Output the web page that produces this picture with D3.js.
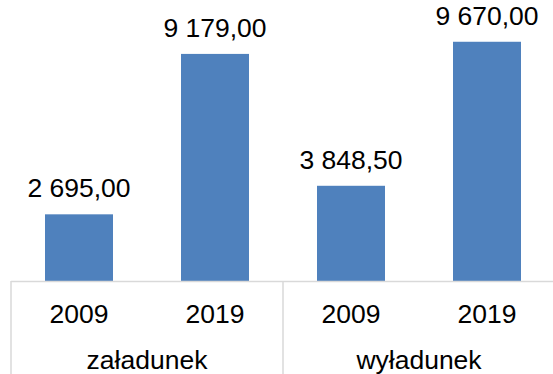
<!DOCTYPE html>
<html>
<head>
<meta charset="utf-8">
<script src="https://cdn.jsdelivr.net/npm/d3@7/dist/d3.min.js"></script>
<style>
  html, body { margin: 0; padding: 0; background: #fff; }
  svg { display: block; font-family: "Liberation Sans", Arial, sans-serif; }
</style>
</head>
<body>
<svg id="chart" width="553" height="374"></svg>
<script>
// Przeładunki: wartości dla dwóch lat w każdej grupie
const groups = ["załadunek", "wyładunek"];
const years = ["2009", "2019"];
const zaladunek = [2695.00, 9179.00];
const wyladunek = [3848.50, 9670.00];
const yTicks = [0, 10000];

const seriesByGroup = { "załadunek": zaladunek, "wyładunek": wyladunek };
const rows = groups.flatMap(g => years.map((y, i) => ({ group: g, year: y, value: seriesByGroup[g][i] })));

const svg = d3.select("#chart");
const W = 553, H = 374;
const left = 11, right = 555, baseY = 281, topY = 33.6;
const fontSize = 26.5;

const plLocale = d3.formatLocale({ decimal: ",", thousands: "\u00a0", grouping: [3], currency: ["", " zł"] });
const fmt = plLocale.format(",.2f");

const x0 = d3.scaleBand().domain(groups).range([left, right]).padding(0);
const x1 = d3.scaleBand().domain(years).range([0, x0.bandwidth()]).paddingInner(0.5).paddingOuter(0.25);
const y = d3.scaleLinear().domain([yTicks[0], yTicks[1]]).range([baseY, topY]);

const gridColor = "#d9d9d9";

// słupki
svg.append("g").selectAll("rect").data(rows).join("rect")
  .attr("x", d => x0(d.group) + x1(d.year))
  .attr("y", d => y(d.value))
  .attr("width", x1.bandwidth())
  .attr("height", d => y(0) - y(d.value))
  .attr("fill", "#4f81bd");

// etykiety wartości
svg.append("g").selectAll("text").data(rows).join("text")
  .attr("x", d => x0(d.group) + x1(d.year) + x1.bandwidth() / 2)
  .attr("y", d => y(d.value) - 17)
  .attr("text-anchor", "middle")
  .attr("font-size", fontSize)
  .attr("fill", "#000")
  .text(d => fmt(d.value));

// oś kategorii: linia bazowa i separatory grup
svg.append("line")
  .attr("x1", left).attr("x2", W)
  .attr("y1", baseY + 0.5).attr("y2", baseY + 0.5)
  .attr("stroke", gridColor).attr("stroke-width", 1.5);

const bounds = groups.map(g => x0(g)).concat([x0(groups[groups.length - 1]) + x0.bandwidth()]);
svg.append("g").selectAll("line").data(bounds).join("line")
  .attr("x1", d => d).attr("x2", d => d)
  .attr("y1", baseY).attr("y2", H)
  .attr("stroke", gridColor).attr("stroke-width", 1.5);

// lata w każdej grupie (oś d3 bez znaczników)
groups.forEach(g => {
  const ax = svg.append("g")
    .attr("transform", `translate(${x0(g)},${baseY})`)
    .call(d3.axisBottom(x1).tickSize(0).tickPadding(0));
  ax.select(".domain").remove();
  ax.selectAll("text")
    .attr("font-size", fontSize)
    .attr("font-family", "Liberation Sans, Arial, sans-serif")
    .attr("fill", "#000")
    .attr("dy", null)
    .attr("y", 323.3 - baseY);
});

// nazwy grup
svg.append("g").selectAll("text").data(groups).join("text")
  .attr("x", g => x0(g) + x0.bandwidth() / 2)
  .attr("y", 369.3)
  .attr("text-anchor", "middle")
  .attr("font-size", fontSize)
  .attr("fill", "#000")
  .text(g => g);
</script>
</body>
</html>
